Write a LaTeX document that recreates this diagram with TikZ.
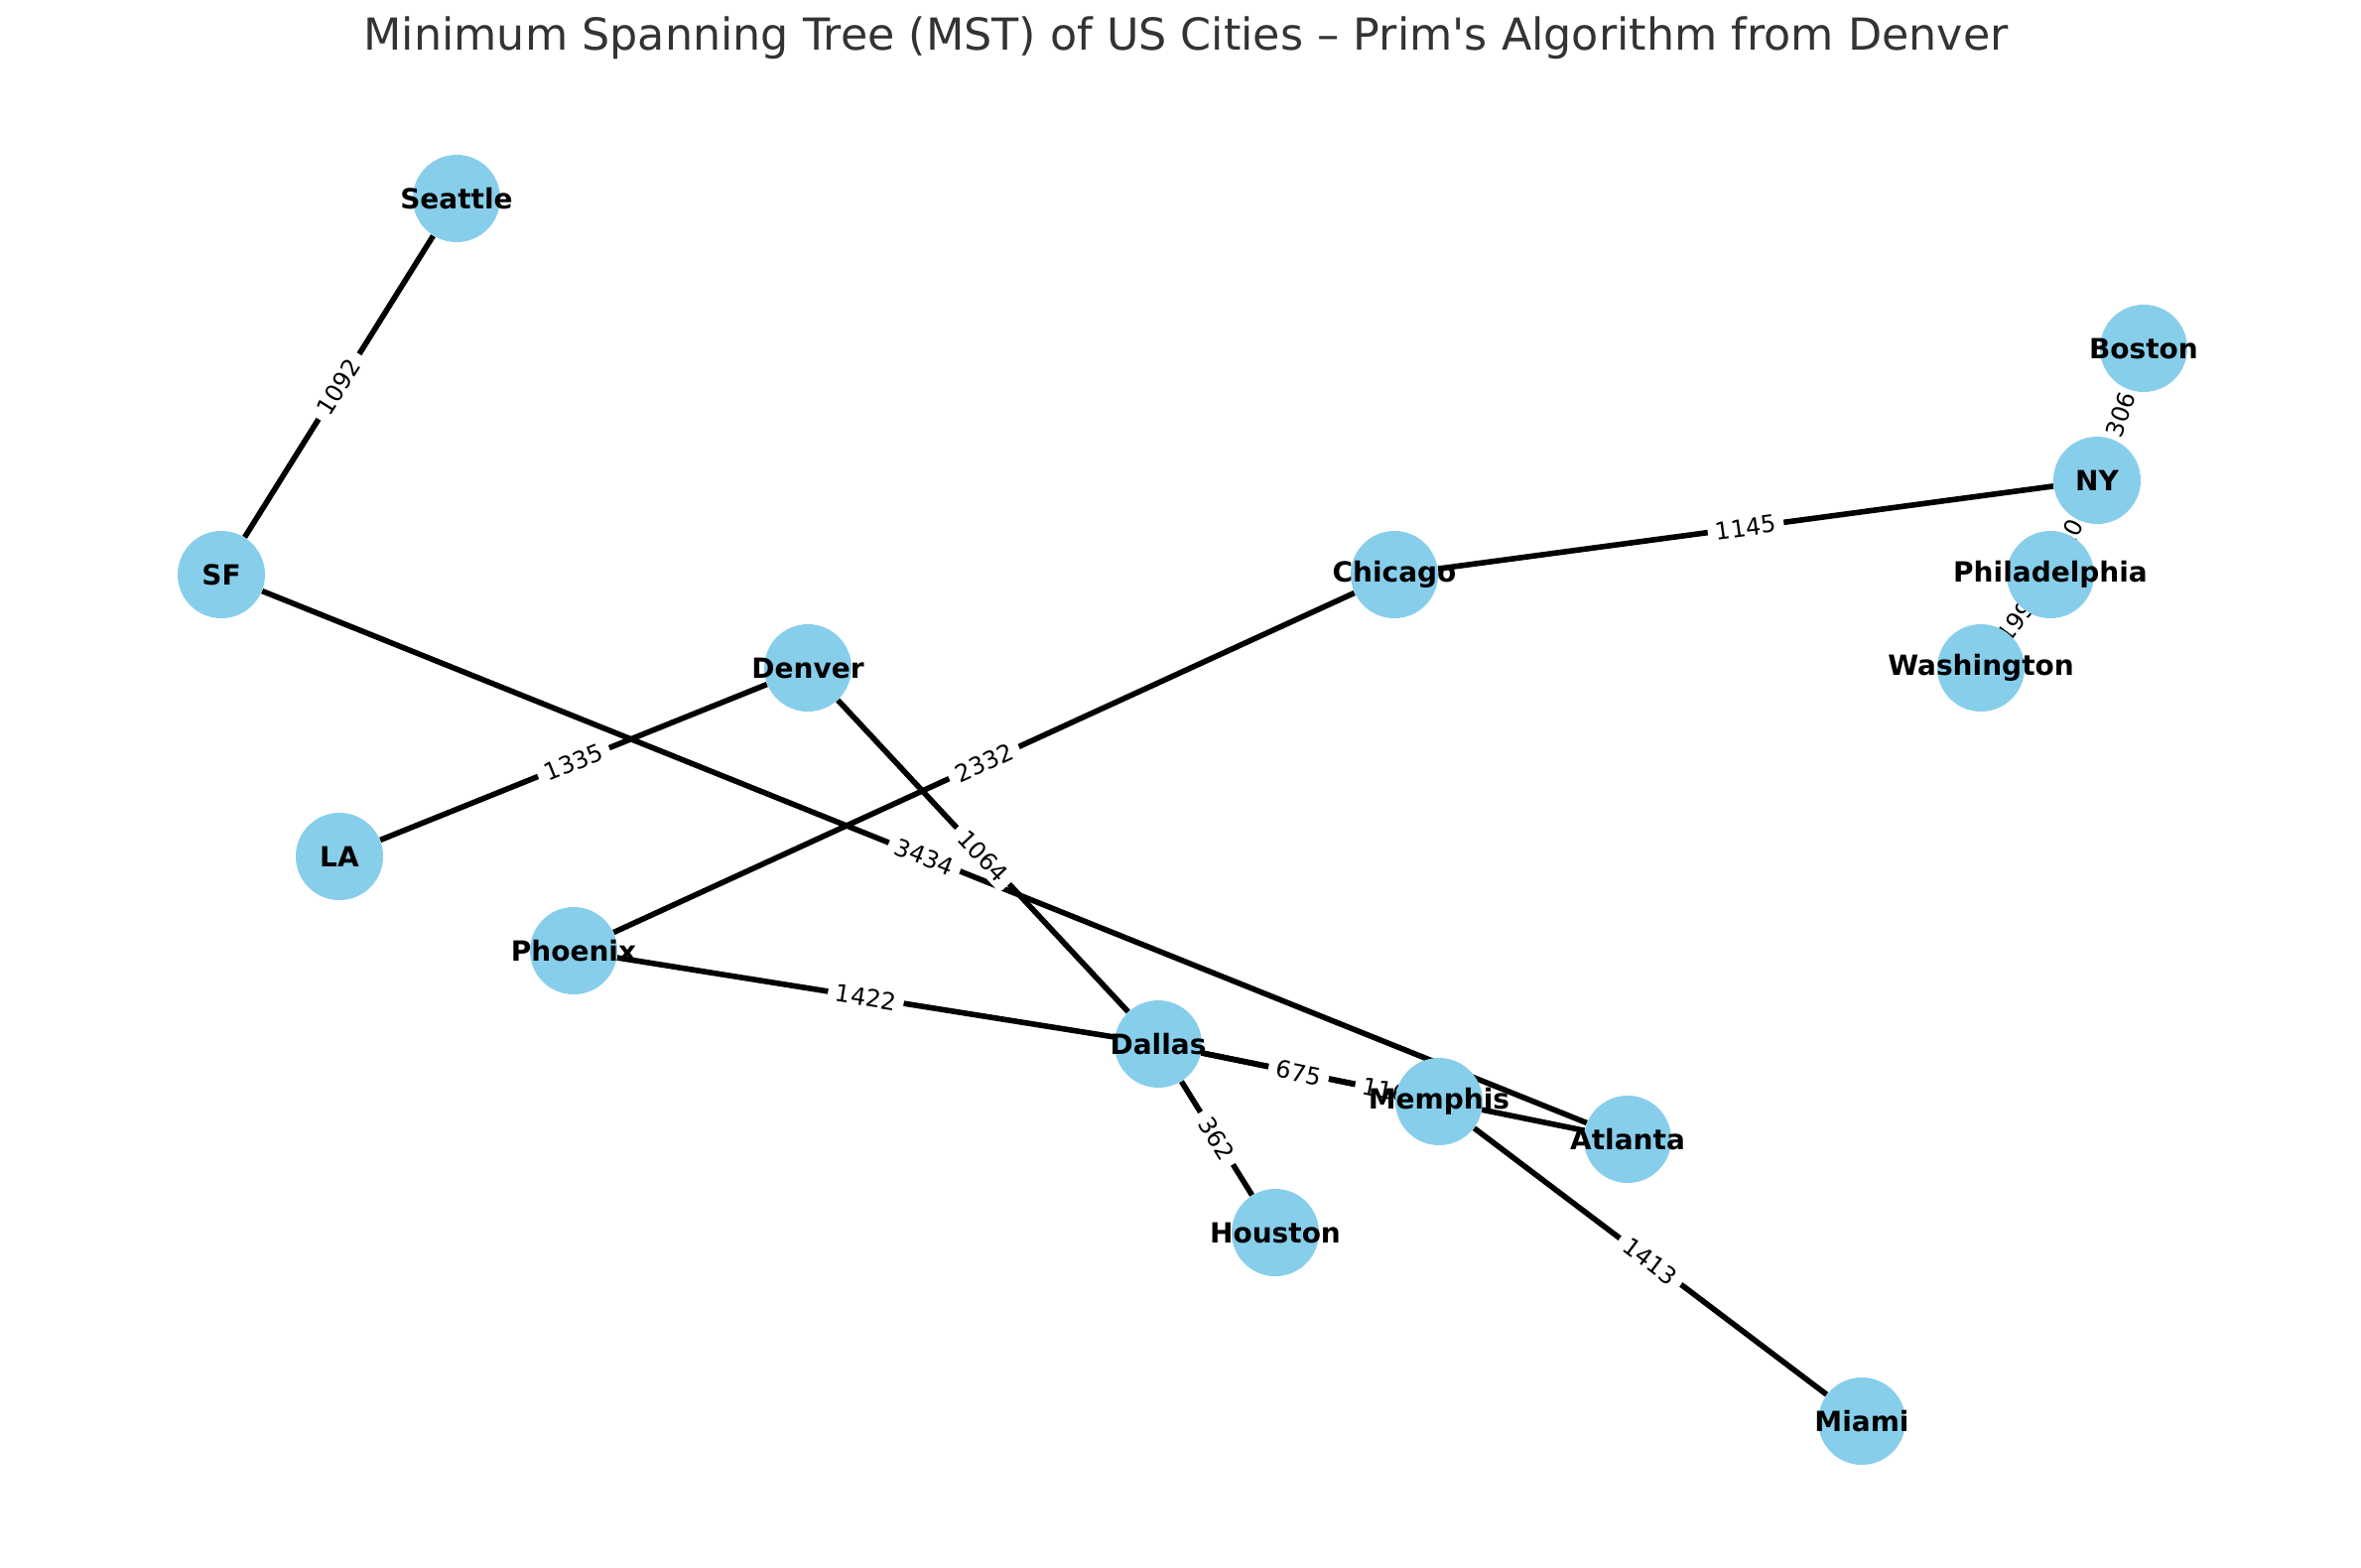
\documentclass[tikz,border=0pt]{standalone}
\usepackage{fontspec}
\setmainfont{DejaVu Sans}
\usepackage{xcolor}
\definecolor{skyblue}{HTML}{87CEEB}
\definecolor{titlegray}{HTML}{333333}

\pgfdeclarelayer{edges}
\pgfdeclarelayer{labels}
\pgfsetlayers{edges,labels,main}

\tikzset{
  city/.style={circle, fill=skyblue, minimum size=44pt, inner sep=0pt},
  citytext/.style={font=\bfseries\fontsize{14}{14}\selectfont, text=black},
  road/.style={line width=2.8pt, black},
  dist/.style={fill=white, inner xsep=4pt, inner ysep=2pt, rounded corners=2pt,
               font=\fontsize{12}{12}\selectfont}
}

\begin{document}
\begin{tikzpicture}[x=0.5pt, y=-0.5pt]
  % Page size as the reference
  \useasboundingbox (0,0) rectangle (2379,1580);

  % Title
  \node[text=titlegray, font=\fontsize{22.2}{22}\selectfont] (title) at (1195,38)
    {Minimum Spanning Tree (MST) of US Cities – Prim\textquotesingle s Algorithm from Denver};

  % Cities
  \node[city, label={[citytext]center:Seattle}] (sea) at (460,200) {};
  \node[city, label={[citytext]center:SF}] (sf) at (223,579) {};
  \node[city, label={[citytext]center:Boston}] (bos) at (2160,351) {};
  \node[city, label={[citytext]center:NY}] (ny) at (2113,484) {};
  \node[city, label={[citytext]center:Philadelphia}] (phi) at (2066,579) {};
  \node[city, label={[citytext]center:Washington}] (was) at (1996,673) {};
  \node[city, label={[citytext]center:Chicago}] (chi) at (1405,579) {};
  \node[city, label={[citytext]center:Denver}] (den) at (814,673) {};
  \node[city, label={[citytext]center:LA}] (la) at (342,863) {};
  \node[city, label={[citytext]center:Phoenix}] (phx) at (578,958) {};
  \node[city, label={[citytext]center:Dallas}] (dal) at (1167,1052) {};
  \node[city, label={[citytext]center:Memphis}] (mem) at (1450,1110) {};
  \node[city, label={[citytext]center:Atlanta}] (atl) at (1640,1148) {};
  \node[city, label={[citytext]center:Houston}] (hou) at (1285,1242) {};
  \node[city, label={[citytext]center:Miami}] (mia) at (1876,1432) {};

  % Tree edges, then their distances
  \begin{pgfonlayer}{edges}
    \foreach \a/\b in {sea/sf, sf/atl, den/la, den/dal, chi/phx, chi/ny, ny/bos,
                       ny/phi, phi/was, phx/dal, dal/mem, dal/atl, mem/mia, dal/hou}
      \draw[road] (\a) -- (\b);
  \end{pgfonlayer}
  \begin{pgfonlayer}{labels}
    \foreach \a/\b/\w in {sea/sf/1092, sf/atl/3434, den/la/1335, den/dal/1064,
                          chi/phx/2332, chi/ny/1145, ny/bos/306, ny/phi/100,
                          phi/was/199, phx/dal/1422, dal/mem/675, dal/atl/1160,
                          mem/mia/1413, dal/hou/362}
      \path (\a) -- node[dist, midway, sloped] {\w} (\b);
  \end{pgfonlayer}
\end{tikzpicture}
\end{document}
